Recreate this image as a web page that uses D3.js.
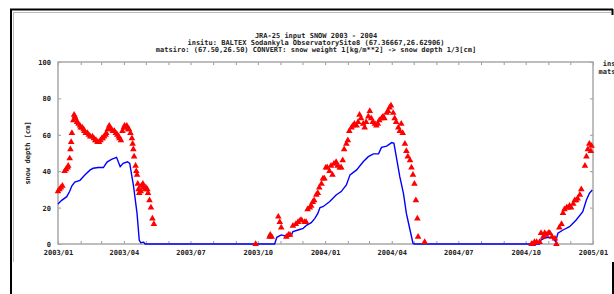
<!DOCTYPE html>
<html>
<head>
<meta charset="utf-8">
<script src="https://cdn.jsdelivr.net/npm/d3@7"></script>
<style>
  body { margin: 0; background: #fff; }
  text { font-family: "DejaVu Sans Mono", monospace; font-weight: bold; font-size: 7px; fill: #222; }
</style>
</head>
<body>
<svg id="my_svg"></svg>
<script>
const width = 614;
const height = 294;

// title lines
const titles = [
    'JRA-25 input SNOW 2003 - 2004',
    'insitu: BALTEX Sodankyla ObservatorySite8 (67.36667,26.62906)',
    'matsiro: (67.50,26.50) CONVERT: snow weight 1[kg/m**2] -> snow depth 1/3[cm]'
];
const legendNames = ['insitu', 'matsiro'];
const yTicks = [0, 20, 40, 60, 80, 100];

// insitu observations (red triangles), [date, snow depth cm]
const insitu = [
    ['2003-01-01',29],['2003-01-03',30],['2003-01-05',31],['2003-01-07',32],['2003-01-10',40],
    ['2003-01-12',41],['2003-01-14',42],['2003-01-15',43],['2003-01-17',47],['2003-01-18',52],
    ['2003-01-19',56],['2003-01-20',61],['2003-01-22',68],['2003-01-23',71],['2003-01-24',70],
    ['2003-01-25',69],['2003-01-27',67],['2003-01-29',66],['2003-01-31',65],['2003-02-01',64],
    ['2003-02-03',64],['2003-02-05',63],['2003-02-06',62],['2003-02-08',61],['2003-02-10',61],
    ['2003-02-12',60],['2003-02-14',59],['2003-02-17',59],['2003-02-19',58],['2003-02-21',57],
    ['2003-02-22',57],['2003-02-24',56],['2003-02-26',56],['2003-02-28',57],['2003-03-02',58],
    ['2003-03-03',58],['2003-03-05',59],['2003-03-07',60],['2003-03-08',61],['2003-03-10',63],
    ['2003-03-12',65],['2003-03-13',64],['2003-03-15',63],['2003-03-17',62],['2003-03-19',62],
    ['2003-03-21',61],['2003-03-23',60],['2003-03-25',59],['2003-03-26',58],['2003-03-28',57],
    ['2003-03-30',62],['2003-04-01',64],['2003-04-02',65],['2003-04-04',64],['2003-04-05',65],
    ['2003-04-07',63],['2003-04-08',63],['2003-04-10',61],['2003-04-12',58],['2003-04-13',55],
    ['2003-04-14',52],['2003-04-15',48],['2003-04-17',43],['2003-04-18',40],['2003-04-19',38],
    ['2003-04-20',33],['2003-04-21',30],['2003-04-22',28],['2003-04-24',29],['2003-04-25',32],
    ['2003-04-27',33],['2003-04-28',31],['2003-04-30',30],['2003-05-01',31],['2003-05-03',30],
    ['2003-05-04',28],['2003-05-06',24],['2003-05-08',20],['2003-05-10',14],['2003-05-12',11],
    ['2003-09-28',0],
    ['2003-10-17',4],['2003-10-18',5],['2003-10-20',4],['2003-10-29',15],['2003-10-31',12],
    ['2003-11-02',9],['2003-11-09',4],['2003-11-12',5],['2003-11-14',5],['2003-11-18',10],
    ['2003-11-22',11],['2003-11-25',12],['2003-11-28',13],['2003-11-30',13],['2003-12-04',12],
    ['2003-12-06',12],['2003-12-08',19],['2003-12-11',20],['2003-12-13',21],['2003-12-15',23],
    ['2003-12-17',24],['2003-12-20',27],['2003-12-22',28],['2003-12-24',31],['2003-12-27',33],
    ['2003-12-29',36],['2003-12-31',36],['2004-01-02',42],['2004-01-04',42],['2004-01-07',40],
    ['2004-01-09',43],['2004-01-11',38],['2004-01-13',44],['2004-01-16',45],['2004-01-18',43],
    ['2004-01-21',42],['2004-01-23',42],['2004-01-25',46],['2004-01-27',52],['2004-01-30',55],
    ['2004-02-01',57],['2004-02-03',62],['2004-02-06',64],['2004-02-08',65],['2004-02-10',66],
    ['2004-02-13',65],['2004-02-15',67],['2004-02-17',71],['2004-02-19',69],['2004-02-22',66],
    ['2004-02-24',64],['2004-02-26',67],['2004-02-29',70],['2004-03-02',73],['2004-03-04',69],
    ['2004-03-06',67],['2004-03-09',66],['2004-03-11',65],['2004-03-13',66],['2004-03-15',68],
    ['2004-03-18',69],['2004-03-20',70],['2004-03-22',69],['2004-03-25',72],['2004-03-27',73],
    ['2004-03-29',75],['2004-03-31',76],['2004-04-03',72],['2004-04-05',69],['2004-04-07',67],
    ['2004-04-10',64],['2004-04-12',62],['2004-04-14',66],['2004-04-16',61],['2004-04-19',55],
    ['2004-04-21',51],['2004-04-23',48],['2004-04-26',46],['2004-04-28',42],['2004-04-30',38],
    ['2004-05-02',33],['2004-05-04',24],['2004-05-06',14],['2004-05-07',4],['2004-05-16',1],
    ['2004-10-09',0],['2004-10-11',0],['2004-10-13',1],['2004-10-16',1],['2004-10-20',1],
    ['2004-10-22',6],['2004-10-25',4],['2004-10-27',6],['2004-10-29',5],['2004-11-01',6],
    ['2004-11-03',6],['2004-11-06',4],['2004-11-10',3],['2004-11-12',0],['2004-11-16',9],
    ['2004-11-19',11],['2004-11-21',17],['2004-11-23',19],['2004-11-26',20],['2004-11-28',20],
    ['2004-11-30',21],['2004-12-02',20],['2004-12-05',22],['2004-12-07',24],['2004-12-09',24],
    ['2004-12-11',25],['2004-12-14',27],['2004-12-16',30],['2004-12-21',43],['2004-12-23',48],
    ['2004-12-25',52],['2004-12-27',55],['2004-12-29',51],['2004-12-30',54]
];

// matsiro model (blue line), [date, snow depth cm]
const matsiro = [
    ['2003-01-01',22],['2003-01-06',24],['2003-01-13',26],['2003-01-17',29],['2003-01-20',32],
    ['2003-01-24',34],['2003-01-31',35],['2003-02-07',38],['2003-02-14',40.7],['2003-02-18',41.6],
    ['2003-02-25',42],['2003-03-04',42],['2003-03-09',45],['2003-03-15',46.5],['2003-03-22',47.6],
    ['2003-03-27',42.5],['2003-03-31',44.3],['2003-04-06',45.2],['2003-04-09',44.3],['2003-04-14',32.4],
    ['2003-04-19',16.8],['2003-04-22',2.2],['2003-04-24',0.7],['2003-04-28',1],['2003-04-30',0],
    ['2003-10-24',0],['2003-10-27',3.7],['2003-11-02',5],['2003-11-11',4],['2003-11-16',5],
    ['2003-11-18',6.8],['2003-11-25',7.7],['2003-12-02',8.6],['2003-12-07',10.4],['2003-12-13',11.7],
    ['2003-12-18',14.1],['2003-12-22',16.8],['2003-12-25',20],['2003-12-29',20.5],['2004-01-07',23.2],
    ['2004-01-16',26.9],['2004-01-23',28.8],['2004-01-30',32.4],['2004-02-04',38],['2004-02-13',40.7],
    ['2004-02-22',45.2],['2004-02-29',48],['2004-03-07',49.5],['2004-03-14',49.5],['2004-03-18',53.1],
    ['2004-03-25',53.8],['2004-04-01',55.7],['2004-04-04',55.3],['2004-04-08',46.2],['2004-04-12',37],
    ['2004-04-17',27.8],['2004-04-21',16.8],['2004-04-26',7.7],['2004-04-30',0.4],['2004-05-02',0],
    ['2004-10-20',0],['2004-10-22',2.2],['2004-10-29',3.7],['2004-11-06',3.5],['2004-11-11',1.3],
    ['2004-11-14',5.9],['2004-11-21',7.7],['2004-11-30',9.5],['2004-12-09',13.2],['2004-12-18',17.7],
    ['2004-12-23',24.2],['2004-12-27',27.8],['2004-12-31',29.7]
];

const parse = d3.timeParse('%Y-%m-%d');

const svg = d3.select('#my_svg')
    .attr('width', width)
    .attr('height', height);

// page frame
svg.append('path')
    .attr('d', 'M10,9.5H613M11,9V294M612.5,9V15M613,262V294')
    .attr('stroke', '#000').attr('stroke-width', 2).attr('fill', 'none');
svg.append('path')
    .attr('d', 'M13,12.5H611M13.5,12V262')
    .attr('stroke', '#bbb').attr('stroke-width', 1).attr('fill', 'none');

const x = d3.scaleTime()
    .domain([parse('2003-01-01'), parse('2005-01-01')])
    .range([58, 593]);
const y = d3.scaleLinear()
    .domain([0, 100])
    .range([244, 62]);

// titles
svg.selectAll('text.title')
    .data(titles)
    .enter().append('text')
    .attr('class', 'title')
    .attr('x', 316)
    .attr('y', (d, i) => 38 + i * 7)
    .attr('text-anchor', 'middle')
    .text(d => d);

// legend names, cut by the right edge as in the picture
svg.selectAll('text.legend')
    .data(legendNames)
    .enter().append('text')
    .attr('class', 'legend')
    .attr('x', 628)
    .attr('y', (d, i) => 66 + i * 7.5)
    .attr('text-anchor', 'end')
    .text(d => d);

const months = d3.timeMonth.range(parse('2003-01-01'), parse('2005-01-02'));
const fmt = d3.timeFormat('%Y/%m');

const xAxis = svg.append('g')
    .attr('transform', `translate(0,${y(0)})`)
    .call(d3.axisBottom(x).tickValues(months)
        .tickSizeInner(-3).tickSizeOuter(0).tickPadding(6)
        .tickFormat(d => d.getMonth() % 3 === 0 ? fmt(d) : ''));
const xAxisTop = svg.append('g')
    .attr('transform', `translate(0,${y(100)})`)
    .call(d3.axisTop(x).tickValues(months)
        .tickSizeInner(-3).tickSizeOuter(0).tickFormat(''));
const yAxis = svg.append('g')
    .attr('transform', `translate(${x.range()[0]},0)`)
    .call(d3.axisLeft(y).tickValues(yTicks)
        .tickSizeInner(-3).tickSizeOuter(0).tickPadding(7));
const yAxisRight = svg.append('g')
    .attr('transform', `translate(${x.range()[1]},0)`)
    .call(d3.axisRight(y).tickValues(yTicks)
        .tickSizeInner(-3).tickSizeOuter(0).tickFormat(''));

for (const g of [xAxis, xAxisTop, yAxis, yAxisRight]) {
    g.select('.domain').remove();
    g.selectAll('line').attr('stroke', '#999');
    g.selectAll('text').attr('font-family', null).attr('font-size', null).attr('fill', null);
}
yAxis.selectAll('text').attr('dy', '0.35em');

// plot border
svg.append('rect')
    .attr('x', x.range()[0])
    .attr('y', y(100))
    .attr('width', x.range()[1] - x.range()[0])
    .attr('height', y(0) - y(100))
    .attr('fill', 'none')
    .attr('stroke', '#a8a8a8')
    .attr('stroke-width', 1.5);

svg.append('text')
    .attr('transform', `translate(30,${(y(0) + y(100)) / 2}) rotate(-90)`)
    .attr('text-anchor', 'middle')
    .text('snow depth [cm]');

const line = d3.line()
    .x(d => x(parse(d[0])))
    .y(d => y(d[1]));

svg.append('path')
    .datum(matsiro)
    .attr('d', line)
    .attr('fill', 'none')
    .attr('stroke', '#0000ff')
    .attr('stroke-width', 1.4);

const tri = d3.symbol(d3.symbolTriangle, 19);
svg.append('g')
    .selectAll('path')
    .data(insitu)
    .enter().append('path')
    .attr('d', tri)
    .attr('transform', d => `translate(${x(parse(d[0]))},${y(d[1])})`)
    .attr('fill', '#ff0000');
</script>
</body>
</html>
